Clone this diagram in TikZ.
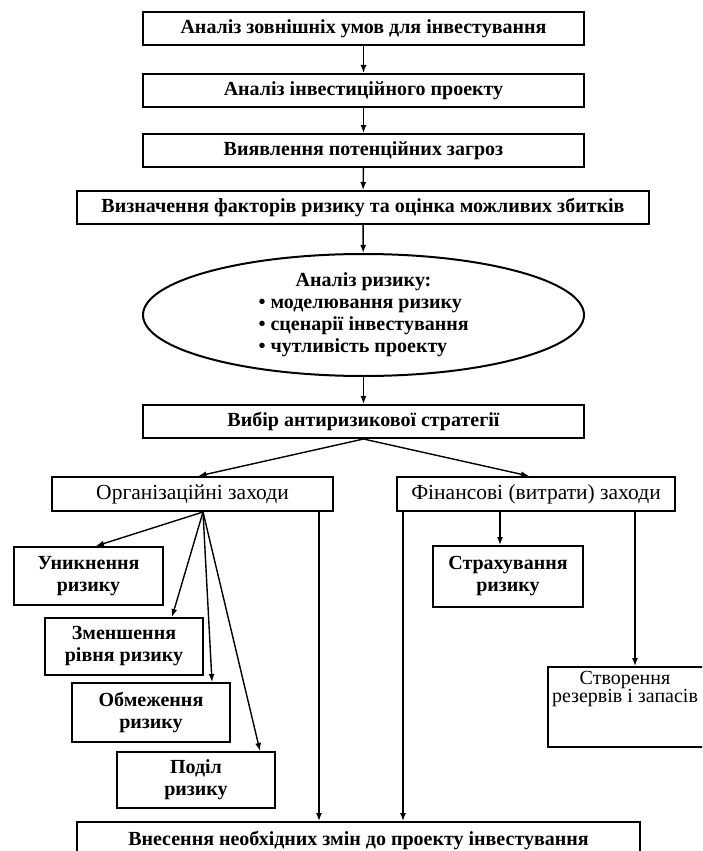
\documentclass[tikz,border=0pt]{standalone}
\usepackage{fontspec}
\setmainfont{Liberation Serif}
\usetikzlibrary{arrows.meta,shapes.geometric,positioning}

\begin{document}
\begin{tikzpicture}[x=1pt, y=-1pt, font=\fontsize{21.5}{22}\selectfont,
  blk/.style={draw, line width=2pt, inner sep=2pt, align=center},
  bt/.style={font=\fontsize{20}{22}\selectfont\bfseries},
  arr/.style={-{Latex[length=8pt,width=6pt]}, line width=1.4pt}]
\useasboundingbox (0,0) rectangle (702,851);
\clip (0,0) rectangle (702,851);
\foreach \n/\y/\t in {b1/29/Аналіз зовнішніх умов для інвестування,
  b2/90.5/Аналіз інвестиційного проекту, b3/150.5/Виявлення потенційних загроз,
  strat/421.5/Вибір антиризикової стратегії}
  \node[blk, bt, minimum width=441, minimum height=33] (\n) at (363.5,\y) {\t};
\node[blk, bt, minimum width=572, minimum height=33] (b4) at (363,207.5) {Визначення факторів ризику та оцінка можливих збитків};
\node[blk, bt, ellipse, inner sep=0, minimum width=441, minimum height=122] (ell) at (363.5,315)
  {Аналіз ризику:\\\makebox[210pt][l]{• моделювання ризику}\\\makebox[210pt][l]{• сценарії інвестування}\\\makebox[210pt][l]{• чутливість проекту}};

\node[blk, minimum width=281, minimum height=34] (org) at (192.5,494) {Організаційні заходи};
\node[blk, minimum width=278, minimum height=34] (fin) at (536,494) {Фінансові (витрати) заходи};

\node[blk, bt, minimum width=149, minimum height=58] (avoid) at (88.5,576) {Уникнення\\ризику};
\node[blk, bt, minimum width=158, minimum height=57] (reduce) at (124,646.5) {Зменшення\\рівня ризику};
\node[blk, bt, minimum width=158, minimum height=59] (limit) at (151,712.5) {Обмеження\\ризику};
\node[blk, bt, minimum width=158, minimum height=56] (share) at (196,780) {Поділ\\ризику};
\node[blk, bt, minimum width=150, minimum height=61] (insur) at (508,576.5) {Страхування\\ризику};
\node[blk, minimum width=158, minimum height=80] (reserve) at (627,707) {};
\node[align=center, inner sep=0, font=\fontsize{20}{18.5}\selectfont, below=5pt of reserve.north, xshift=-2pt] (restxt) {Створення\\резервів і запасів};
\node[blk, bt, minimum width=563, minimum height=36] (bottom) at (358.5,840) {Внесення необхідних змін до проекту інвестування};

\draw[arr] (b1) -- (b2);
\draw[arr] (b2) -- (b3);
\draw[arr] (b3) -- (b4);
\draw[arr] (b4) -- (ell);
\draw[arr] (ell) -- (strat);
\draw[arr] (strat.south) -- ([xshift=6]org.north);
\draw[arr] (strat.south) -- ([xshift=-7]fin.north);

\coordinate (fan) at ([xshift=10.5]org.south);
\foreach \b/\s in {avoid/7.5, reduce/48, limit/61, share/64}
  \draw[arr] (fan) -- ([xshift=\s]\b.north);

\coordinate (orgdn) at ([xshift=126.5]org.south);
\coordinate (findn) at ([xshift=-133]fin.south);
\draw[arr] (orgdn) -- (orgdn |- bottom.north);
\draw[arr] (findn) -- (findn |- bottom.north);
\coordinate (insin) at ([xshift=-8]insur.north);
\coordinate (resin) at ([xshift=8]reserve.north);
\draw[arr] (insin |- fin.south) -- (insin);
\draw[arr] (resin |- fin.south) -- (resin);
\end{tikzpicture}
\end{document}
